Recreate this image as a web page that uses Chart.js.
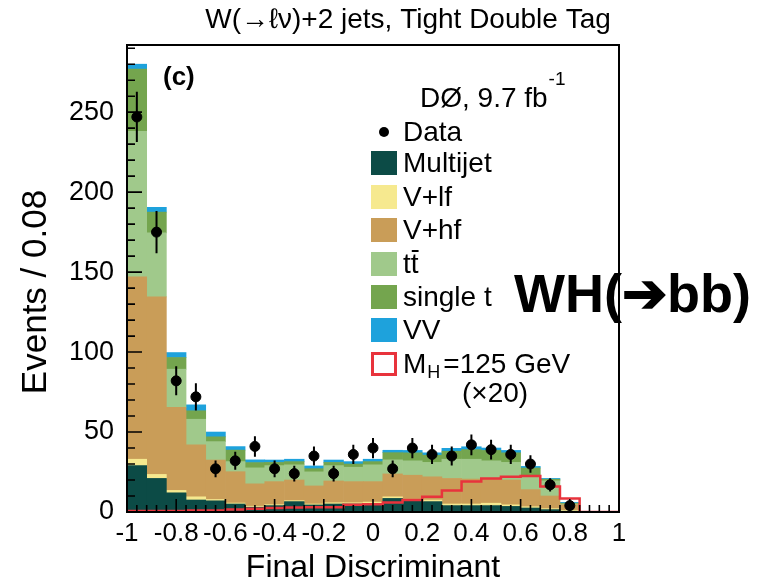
<!DOCTYPE html>
<html>
<head>
<meta charset="utf-8">
<script src="https://cdn.jsdelivr.net/npm/chart.js@4.4.0/dist/chart.umd.min.js"></script>
<style>
  html, body { margin: 0; padding: 0; background: #fff; }
  #wrap { width: 768px; height: 585px; position: relative; }
</style>
</head>
<body>
<div id="wrap"><canvas id="c"></canvas></div>
<script>
// 25 bins of 0.08 over the discriminant range
var binCenters = [-0.96, -0.88, -0.80, -0.72, -0.64, -0.56, -0.48, -0.40, -0.32, -0.24, -0.16, -0.08, 0.00,
                  0.08, 0.16, 0.24, 0.32, 0.40, 0.48, 0.56, 0.64, 0.72, 0.80, 0.88, 0.96];
var binEdges = [-1, -0.92, -0.84, -0.76, -0.68, -0.60, -0.52, -0.44, -0.36, -0.28, -0.20, -0.12, -0.04,
                0.04, 0.12, 0.20, 0.28, 0.36, 0.44, 0.52, 0.60, 0.68, 0.76, 0.84, 0.92, 1];

// background expectation per bin (events), bottom to top of the stack
var multijet = [29, 21, 12, 7.5, 7, 5, 3, 4, 6.5, 4.4, 5, 5, 5.4, 8.5, 7, 6.5, 4, 4, 4, 3.5, 2.5, 1.5, 0.5, 0, 0];
var vlf      = [4, 2.5, 1.5, 2, 0.8, 0.6, 0.6, 0.6, 0.6, 0.6, 0.8, 0.8, 0.8, 1, 1, 1, 1, 1, 1.5, 1, 0.8, 0.6, 0.5, 0, 0];
var vhf      = [114, 111, 52, 32.5, 24.7, 19.6, 14, 14.4, 12.9, 11.3, 13.6, 13.2, 12.8, 14.3, 15, 14.5, 16, 15.6, 15.1, 15.5, 10.7, 7.9, 3.5, 0, 0];
var ttbar    = [91, 40, 23.8, 16, 11.5, 6.3, 10, 10, 9.5, 8.8, 9.6, 9, 10.5, 8.8, 9, 9, 12, 12.4, 11.4, 11, 8, 9.5, 0.5, 0, 0];
var singleTop= [39, 13, 7.3, 5.3, 3, 7.2, 3.3, 2, 2, 2, 2, 2, 2, 4.5, 5, 4.5, 5, 6, 6.5, 6, 5.5, 1, 0.5, 0, 0];
var diboson  = [3, 3, 3.1, 3.7, 3, 2.2, 1.7, 1.5, 1.5, 1.7, 1.5, 1.5, 1.5, 1.5, 1.5, 1.5, 1.8, 1.8, 1.5, 1.5, 1, 0.5, 0.5, 0, 0];

// observed events
var dataCounts = [247, 175, 82, 72, 27, 32, 41, 27, 24, 35, 24, 36, 40, 27, 40, 36, 35, 42, 39, 36, 30, 17, 4, null, null];

// WH signal, MH = 125 GeV, scaled by 20
var signalX20 = [0.6, 0.6, 0.6, 1, 1, 1.5, 2, 2.5, 2.8, 3, 3, 4.5, 4.8, 6, 7.5, 9.5, 13.5, 19, 21, 22, 22.5, 16, 8.5, 0, 0];

var xTicks = [-1, -0.8, -0.6, -0.4, -0.2, 0, 0.2, 0.4, 0.6, 0.8, 1];
var yTicks = [0, 50, 100, 150, 200, 250];

var FONT = "'Liberation Sans', Arial, Helvetica, sans-serif";

var colors = {
    multijet: '#0c4b46',
    vlf: '#f6e98f',
    vhf: '#c99d58',
    ttbar: '#a0c98b',
    singleTop: '#74a54e',
    diboson: '#1ea2dc',
    signal: '#e8333c'
};

function bars(label, values, color) {
    return {
        type: 'bar',
        label: label,
        data: values,
        xAxisID: 'xc',
        yAxisID: 'y',
        stack: 'bkg',
        order: 2,
        grouped: false,
        backgroundColor: color,
        borderWidth: 0,
        barPercentage: 1.0,
        categoryPercentage: 1.0
    };
}

var signalPoints = binEdges.map(function (e, i) {
    return { x: e, y: signalX20[Math.min(i, signalX20.length - 1)] };
});
var dataPoints = [];
binCenters.forEach(function (c, i) {
    if (dataCounts[i] !== null) dataPoints.push({ x: c, y: dataCounts[i] });
});

// inward ticks and the closed frame around the plot
var frameTicks = {
    id: 'frameTicks',
    afterDatasetsDraw: function (chart) {
        var ctx = chart.ctx, a = chart.chartArea;
        var xs = chart.scales.x, ys = chart.scales.y;
        ctx.save();
        ctx.strokeStyle = '#000';
        ctx.lineWidth = 1.6;
        ctx.beginPath();
        for (var i = 0; i <= 50; i++) {
            var v = -1 + i * 0.04;
            var px = xs.getPixelForValue(v);
            var len = (i % 5 === 0) ? 13 : 7;
            ctx.moveTo(px, a.bottom);
            ctx.lineTo(px, a.bottom - len);
        }
        for (var k = 0; k <= 290; k += 10) {
            var py = ys.getPixelForValue(k);
            var ln = (k % 50 === 0) ? 15 : 8;
            ctx.moveTo(a.left, py);
            ctx.lineTo(a.left + ln, py);
        }
        ctx.stroke();
        ctx.lineWidth = 2;
        ctx.strokeRect(a.left, a.top, a.right - a.left, a.bottom - a.top);

        // error bars on the data points
        ctx.lineWidth = 2;
        ctx.beginPath();
        dataPoints.forEach(function (p) {
            var err = Math.sqrt(p.y);
            var px = xs.getPixelForValue(p.x);
            ctx.moveTo(px, ys.getPixelForValue(p.y - err));
            ctx.lineTo(px, ys.getPixelForValue(p.y + err));
        });
        ctx.stroke();
        ctx.restore();
    }
};

// titles, labels and the legend box inside the frame
var annotations = {
    id: 'annotations',
    afterDraw: function (chart) {
        var ctx = chart.ctx;
        ctx.save();
        ctx.fillStyle = '#000';
        ctx.textBaseline = 'middle';

        ctx.font = '28px ' + FONT;
        ctx.textAlign = 'center';
        ctx.fillText('W(\u2192\u2113\u03BD)+2 jets, Tight Double Tag', 408, 20);

        ctx.textAlign = 'left';
        ctx.font = 'bold 26px ' + FONT;
        ctx.fillText('(c)', 163, 78);

        ctx.font = '28px ' + FONT;
        ctx.fillText('D\u00D8, 9.7 fb', 420, 99);
        var w = ctx.measureText('D\u00D8, 9.7 fb').width;
        ctx.font = '19px ' + FONT;
        ctx.fillText('-1', 420 + w + 1, 80);

        // y axis title
        ctx.save();
        ctx.translate(36, 292);
        ctx.rotate(-Math.PI / 2);
        ctx.textAlign = 'center';
        ctx.font = '35px ' + FONT;
        ctx.fillText('Events / 0.08', 0, 0);
        ctx.restore();

        // legend
        var tx = 403, bx = 371, bw = 26, bh = 24;
        ctx.font = '28px ' + FONT;
        ctx.beginPath();
        ctx.arc(384, 132, 5, 0, Math.PI * 2);
        ctx.fill();
        ctx.fillText('Data', tx, 133);

        var rows = [
            ['Multijet', colors.multijet, 163],
            ['V+lf', colors.vlf, 197],
            ['V+hf', colors.vhf, 230],
            ['tt', colors.ttbar, 264],
            ['single t', colors.singleTop, 297],
            ['VV', colors.diboson, 330]
        ];
        rows.forEach(function (r) {
            ctx.fillStyle = r[1];
            ctx.fillRect(bx, r[2] - bh / 2, bw, bh);
            ctx.fillStyle = '#000';
            ctx.fillText(r[0], tx, r[2] + 1);
        });
        // bar over the second t
        var tw = ctx.measureText('t').width;
        ctx.fillRect(tx + tw + 1, 250, tw - 1, 2);

        ctx.strokeStyle = colors.signal;
        ctx.lineWidth = 3;
        ctx.strokeRect(bx + 1.5, 364 - bh / 2 + 1.5, bw - 3, bh - 3);
        ctx.fillText('M', tx, 365);
        var mw = ctx.measureText('M').width;
        ctx.font = '18px ' + FONT;
        ctx.fillText('H', tx + mw + 1, 373);
        var hw = ctx.measureText('H').width;
        ctx.font = '28px ' + FONT;
        ctx.fillText('=125 GeV', tx + mw + hw + 4, 365);
        ctx.fillText('(\u00D720)', 462, 394);

        // process label on the right
        ctx.font = 'bold 54px ' + FONT;
        ctx.fillText('WH(\u2794bb)', 514, 297);
        ctx.restore();
    }
};

new Chart(document.getElementById('c'), {
    data: {
        labels: binCenters,
        datasets: [
            bars('Multijet', multijet, colors.multijet),
            bars('V+lf', vlf, colors.vlf),
            bars('V+hf', vhf, colors.vhf),
            bars('ttbar', ttbar, colors.ttbar),
            bars('single t', singleTop, colors.singleTop),
            bars('VV', diboson, colors.diboson),
            {
                type: 'line',
                label: 'MH=125 GeV (x20)',
                data: signalPoints,
                xAxisID: 'x',
                yAxisID: 'y',
                stack: 'sig',
                order: 1,
                stepped: true,
                borderColor: colors.signal,
                borderWidth: 2.5,
                pointRadius: 0,
                fill: false
            },
            {
                type: 'scatter',
                label: 'Data',
                data: dataPoints,
                xAxisID: 'x',
                yAxisID: 'y',
                stack: 'data',
                order: 0,
                backgroundColor: '#000',
                borderColor: '#000',
                pointRadius: 5,
                pointHoverRadius: 5
            }
        ]
    },
    options: {
        responsive: true,
        maintainAspectRatio: false,
        animation: false,
        layout: { padding: { left: 0, right: 149, top: 45, bottom: 0 } },
        plugins: {
            legend: { display: false },
            tooltip: { enabled: false },
            title: { display: false }
        },
        scales: {
            xc: {
                type: 'category',
                display: false,
                stacked: true,
                offset: true
            },
            x: {
                type: 'linear',
                position: 'bottom',
                min: -1,
                max: 1,
                afterBuildTicks: function (s) { s.ticks = xTicks.map(function (v) { return { value: v }; }); },
                afterFit: function (s) { s.height = 73; },
                grid: { display: false, drawTicks: false },
                border: { display: false },
                ticks: {
                    color: '#000',
                    autoSkip: false,
                    maxRotation: 0,
                    padding: 6,
                    font: { family: FONT, size: 26 },
                    callback: function (v) { return String(Math.round(v * 10) / 10); }
                },
                title: {
                    display: true,
                    text: 'Final Discriminant',
                    color: '#000',
                    font: { family: FONT, size: 32, lineHeight: 1 },
                    padding: { top: 0, bottom: 1 }
                }
            },
            y: {
                type: 'linear',
                stacked: true,
                min: 0,
                max: 292,
                afterBuildTicks: function (s) { s.ticks = yTicks.map(function (v) { return { value: v }; }); },
                afterFit: function (s) { s.width = 127; },
                grid: { display: false, drawTicks: false },
                border: { display: false },
                ticks: {
                    color: '#000',
                    padding: 13,
                    font: { family: FONT, size: 27 }
                }
            }
        }
    },
    plugins: [frameTicks, annotations]
});
</script>
</body>
</html>
